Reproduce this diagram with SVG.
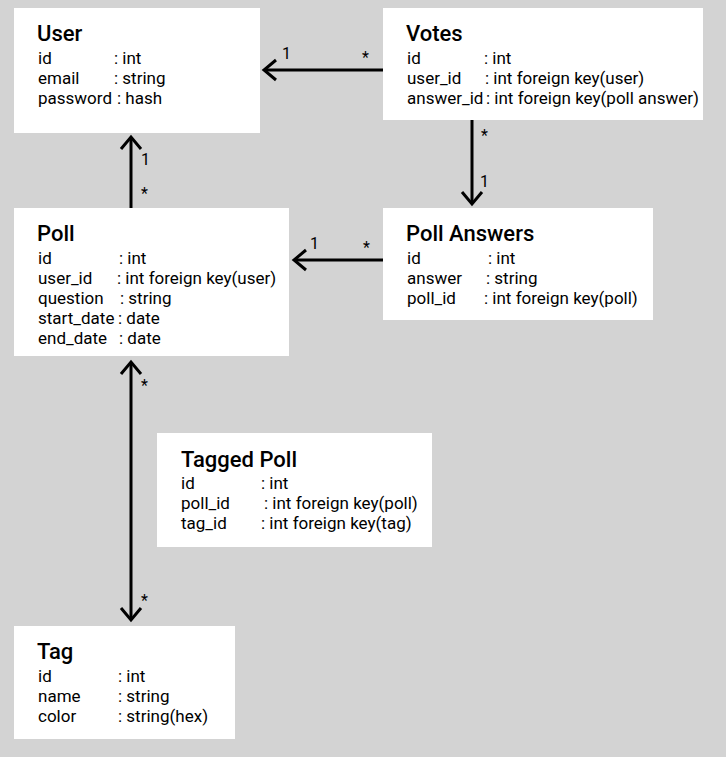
<svg xmlns="http://www.w3.org/2000/svg" width="726" height="757" viewBox="0 0 726 757">
<defs>
<style>
.box{fill:#fff}
.title{font-family:Roboto,"Liberation Sans",sans-serif;font-size:22px;font-weight:500;fill:#000}
.f{font-family:Roboto,"Liberation Sans",sans-serif;font-size:17px;fill:#000}
.lbl{font-family:Roboto,"Liberation Sans",sans-serif;font-size:16px;fill:#000}
.ln{stroke:#000;stroke-width:3;fill:none}
</style>
<marker id="ah" viewBox="0 0 16 24" refX="14" refY="12" markerWidth="16" markerHeight="24" markerUnits="userSpaceOnUse" orient="auto-start-reverse" overflow="visible">
<path d="M2,2 L14,12 L2,22" fill="none" stroke="#000" stroke-width="3" stroke-linejoin="miter"/>
</marker>
</defs>
<rect width="726" height="757" fill="#d3d3d3"/>

<g id="connectors">
<line class="ln" x1="383" y1="70" x2="264" y2="70" marker-end="url(#ah)"/>
<text class="lbl" x="282" y="59">1</text>
<text class="lbl" x="362" y="63">*</text>

<line class="ln" x1="131" y1="208" x2="131" y2="137" marker-end="url(#ah)"/>
<text class="lbl" x="141" y="165">1</text>
<text class="lbl" x="141" y="199">*</text>

<line class="ln" x1="472" y1="120" x2="472" y2="204" marker-end="url(#ah)"/>
<text class="lbl" x="481" y="141">*</text>
<text class="lbl" x="480" y="187">1</text>

<line class="ln" x1="383" y1="260" x2="294" y2="260" marker-end="url(#ah)"/>
<text class="lbl" x="310" y="249">1</text>
<text class="lbl" x="363" y="253">*</text>

<line class="ln" x1="131" y1="362" x2="131" y2="620" marker-start="url(#ah)" marker-end="url(#ah)"/>
<text class="lbl" x="141" y="391">*</text>
<text class="lbl" x="141" y="606">*</text>
</g>

<g id="user">
<rect class="box" x="14" y="8" width="246" height="125"/>
<text class="title" x="37" y="41">User</text>
<text class="f" y="64"><tspan x="38">id</tspan><tspan x="114">: int</tspan></text>
<text class="f" y="84"><tspan x="38">email</tspan><tspan x="114">: string</tspan></text>
<text class="f" y="104"><tspan x="38">password</tspan><tspan x="117">: hash</tspan></text>
</g>

<g id="votes">
<rect class="box" x="383" y="8" width="320" height="112"/>
<text class="title" x="406" y="41">Votes</text>
<text class="f" y="64"><tspan x="407">id</tspan><tspan x="484">: int</tspan></text>
<text class="f" y="84"><tspan x="407">user_id</tspan><tspan x="485">: int foreign key(user)</tspan></text>
<text class="f" y="104"><tspan x="407">answer_id</tspan><tspan x="486">: int foreign key(poll answer)</tspan></text>
</g>

<g id="poll">
<rect class="box" x="14" y="208" width="275" height="148"/>
<text class="title" x="37" y="241">Poll</text>
<text class="f" y="264"><tspan x="38">id</tspan><tspan x="119">: int</tspan></text>
<text class="f" y="284"><tspan x="38">user_id</tspan><tspan x="117">: int foreign key(user)</tspan></text>
<text class="f" y="304"><tspan x="38">question</tspan><tspan x="120">: string</tspan></text>
<text class="f" y="324"><tspan x="38">start_date</tspan><tspan x="118">: date</tspan></text>
<text class="f" y="344"><tspan x="38">end_date</tspan><tspan x="119">: date</tspan></text>
</g>

<g id="poll-answers">
<rect class="box" x="383" y="208" width="270" height="112"/>
<text class="title" x="406" y="241">Poll Answers</text>
<text class="f" y="264"><tspan x="407">id</tspan><tspan x="488">: int</tspan></text>
<text class="f" y="284"><tspan x="407">answer</tspan><tspan x="486">: string</tspan></text>
<text class="f" y="304"><tspan x="407">poll_id</tspan><tspan x="484">: int foreign key(poll)</tspan></text>
</g>

<g id="tagged-poll">
<rect class="box" x="157" y="433" width="275" height="114"/>
<text class="title" x="181" y="467">Tagged Poll</text>
<text class="f" y="489"><tspan x="181">id</tspan><tspan x="261">: int</tspan></text>
<text class="f" y="509"><tspan x="181">poll_id</tspan><tspan x="264">: int foreign key(poll)</tspan></text>
<text class="f" y="529"><tspan x="181">tag_id</tspan><tspan x="261">: int foreign key(tag)</tspan></text>
</g>

<g id="tag">
<rect class="box" x="14" y="626" width="221" height="113"/>
<text class="title" x="37" y="659">Tag</text>
<text class="f" y="682"><tspan x="38">id</tspan><tspan x="118">: int</tspan></text>
<text class="f" y="702"><tspan x="38">name</tspan><tspan x="118">: string</tspan></text>
<text class="f" y="722"><tspan x="38">color</tspan><tspan x="118">: string(hex)</tspan></text>
</g>
</svg>
